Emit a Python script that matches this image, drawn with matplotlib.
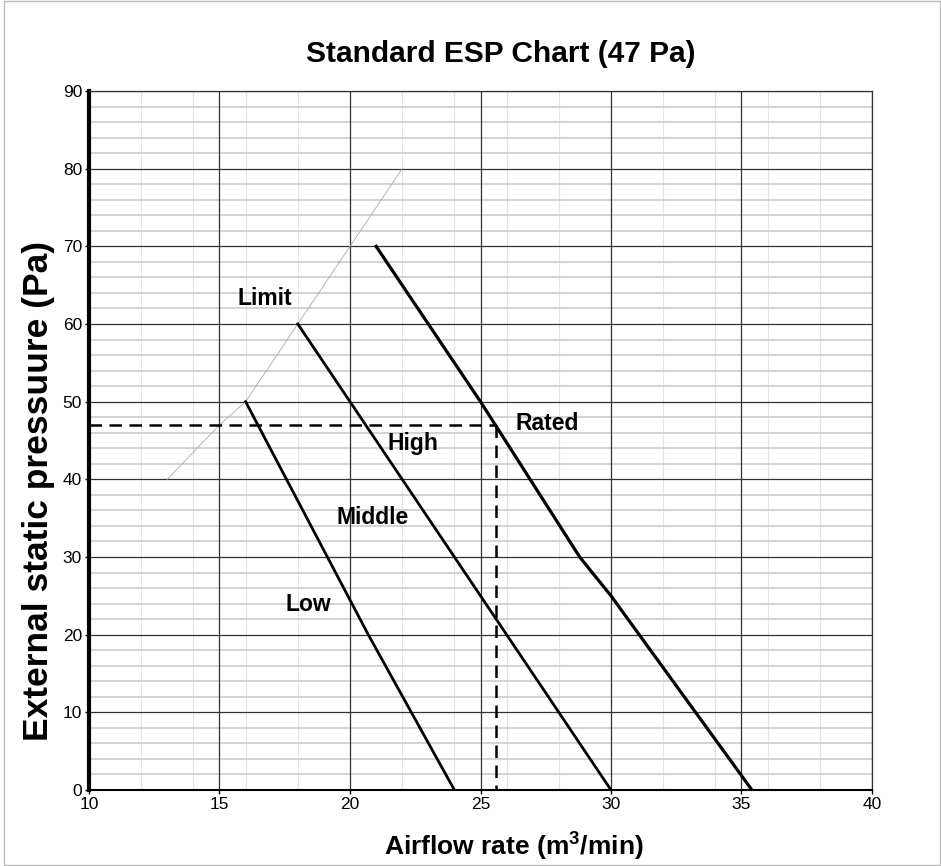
import matplotlib
matplotlib.use("Agg")
import matplotlib.pyplot as plt
from matplotlib.ticker import MultipleLocator
from matplotlib.patches import Rectangle

plt.rcParams['font.family'] = ['Liberation Sans', 'DejaVu Sans']
plt.rcParams['mathtext.fontset'] = 'custom'
plt.rcParams['mathtext.rm'] = 'Liberation Sans'
plt.rcParams['mathtext.bf'] = 'Liberation Sans:bold'

# fan curves (airflow m3/min, pressure Pa)
low_x = [16, 20.7, 24]
low_y = [50, 20, 0]
mid_x = [18, 30]
mid_y = [60, 0]
rated_x = [21, 25, 28.8, 30, 35.4]
rated_y = [70, 50, 30, 25, 0]
limit_x = [13, 14, 15, 16, 17, 18, 20, 22]
limit_y = [40, 43.5, 47, 50, 55, 60, 70, 80]

# operating point
esp = 47
rated_flow = 25.6

labels = ["Limit", "High", "Middle", "Low", "Rated"]
label_x = [16.75, 22.4, 20.85, 18.4, 27.55]
label_y = [62.4, 43.8, 34.3, 23.1, 46.3]

fig = plt.figure(figsize=(9.41, 8.66), dpi=100)
ax = fig.add_axes([89/941, 1 - 790/866, (872-89)/941, (790-91)/866])

ax.set_xlim(10, 40)
ax.set_ylim(0, 90)
ax.xaxis.set_major_locator(MultipleLocator(5))
ax.xaxis.set_minor_locator(MultipleLocator(2))
ax.yaxis.set_major_locator(MultipleLocator(10))
ax.yaxis.set_minor_locator(MultipleLocator(2))

# light minor grid, dark major grid on top of it
ax.grid(which='minor', axis='x', color='#e3e3e3', lw=0.8)
ax.grid(which='minor', axis='y', color='#c8c8c8', lw=1.1)
ax.set_axisbelow(True)
for x in ax.get_xticks():
    ax.axvline(x, color='#333333', lw=0.9, zorder=0.8)
for y in ax.get_yticks():
    ax.axhline(y, color='#333333', lw=0.9, zorder=0.8)

ax.tick_params(which='minor', length=0)
ax.tick_params(which='major', length=3, width=1, labelsize=12.5, pad=2)

for s in ['top', 'right']:
    ax.spines[s].set_color('#333333')
    ax.spines[s].set_linewidth(0.9)
ax.spines['left'].set_linewidth(3)
ax.spines['bottom'].set_linewidth(1.5)

ax.plot(limit_x, limit_y, color='#aaaaaa', lw=0.6)
ax.plot(low_x, low_y, color='black', lw=2)
ax.plot(mid_x, mid_y, color='black', lw=2)
ax.plot(rated_x, rated_y, color='black', lw=2.3)

ax.plot([10, rated_flow], [esp, esp], color='black', lw=1.8, dashes=(5, 3))
ax.plot([rated_flow, rated_flow], [esp, 0], color='black', lw=1.8, dashes=(5, 3))

for t, x, y in zip(labels, label_x, label_y):
    ax.text(x, y, t, ha='center', va='baseline', fontsize=16.5, fontweight='bold')

fig.text(501/941, 1 - 61.7/866, 'Standard ESP Chart (47 Pa)', ha='center', va='baseline',
         fontsize=21.5, fontweight='bold')
fig.text(514/941, 1 - 855/866, r'Airflow rate (m$^{\mathbf{3}}$/min)', ha='center', va='baseline',
         fontsize=19, fontweight='bold')
fig.text(39/941, 1 - 491/866, 'External static pressuure (Pa)', ha='center', va='center',
         rotation=90, fontsize=25.5, fontweight='bold')

fig.patches.append(Rectangle((4/941, 1/866), 1 - 5/941, 1 - 2/866, transform=fig.transFigure,
                             fill=False, edgecolor='#bbbbbb', lw=1))

fig.savefig('out.png', dpi=100)
